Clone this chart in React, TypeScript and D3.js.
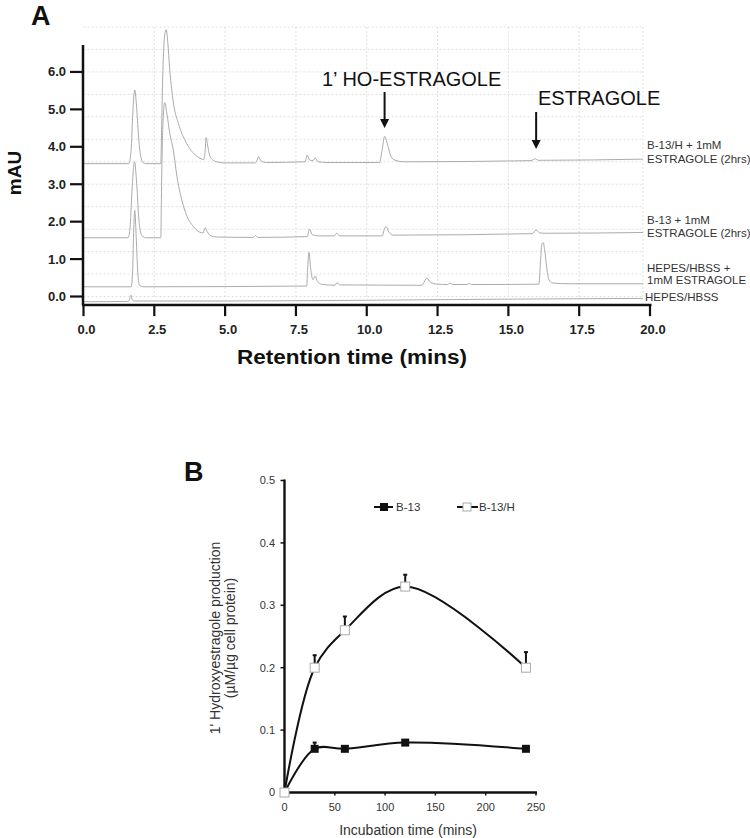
import React from "react";
import * as d3 from "d3";

// ---------- Panel A data ----------
const xTicksA = [0, 2.5, 5, 7.5, 10, 12.5, 15, 17.5, 20];
const yTicksA = [0, 1, 2, 3, 4, 5, 6];
const gridYA = [0, 0.6, 1.2, 1.8, 2.4, 3.0, 3.6, 4.2, 4.8, 5.4, 6.0, 6.6, 7.2];
const gridXA = [2.5, 5, 7.5, 10, 12.5, 15, 17.5, 19.75];

const traceB13H: [number, number][] = [
  [0, 3.55], [1.6, 3.55], [1.68, 3.9], [1.74, 4.9], [1.81, 5.52], [1.88, 5.0], [1.95, 4.2], [2.02, 3.75], [2.1, 3.58], [2.2, 3.55],
  [2.73, 3.55], [2.76, 4.6], [2.81, 6.2], [2.87, 7.0], [2.92, 7.13], [2.98, 6.75], [3.04, 6.1], [3.12, 5.5], [3.2, 5.05], [3.32, 4.7],
  [3.45, 4.4], [3.6, 4.15], [3.8, 3.9], [4.0, 3.75], [4.15, 3.68], [4.24, 3.66], [4.29, 3.85], [4.33, 4.25], [4.38, 4.05], [4.45, 3.78],
  [4.55, 3.66], [4.7, 3.6], [5.0, 3.57], [6.05, 3.57], [6.12, 3.62], [6.18, 3.74], [6.26, 3.63], [6.45, 3.58], [7.82, 3.6], [7.9, 3.78],
  [7.98, 3.65], [8.1, 3.63], [8.18, 3.7], [8.28, 3.6], [8.6, 3.58], [10.45, 3.58], [10.54, 3.9], [10.63, 4.28], [10.72, 4.1], [10.85, 3.75],
  [11.0, 3.64], [11.3, 3.6], [15.8, 3.63], [15.95, 3.68], [16.05, 3.64], [16.2, 3.64], [19.75, 3.67],
];

const traceB13: [number, number][] = [
  [0, 1.57], [1.57, 1.57], [1.64, 1.8], [1.71, 2.8], [1.8, 3.6], [1.88, 3.0], [1.95, 2.1], [2.02, 1.7], [2.1, 1.6], [2.2, 1.57],
  [2.73, 1.57], [2.75, 2.6], [2.78, 4.0], [2.82, 4.85], [2.87, 5.18], [2.95, 4.85], [3.05, 4.35], [3.17, 3.92], [3.3, 3.2], [3.47, 2.58],
  [3.65, 2.15], [3.88, 1.87], [4.1, 1.72], [4.22, 1.7], [4.29, 1.84], [4.36, 1.74], [4.5, 1.62], [4.7, 1.59], [6.0, 1.58], [6.07, 1.63],
  [6.15, 1.58], [7.9, 1.6], [7.98, 1.8], [8.08, 1.65], [8.3, 1.62], [8.85, 1.62], [8.94, 1.69], [9.05, 1.62], [10.55, 1.62], [10.62, 1.8],
  [10.68, 1.87], [10.78, 1.72], [10.95, 1.64], [15.85, 1.68], [15.98, 1.78], [16.1, 1.7], [16.3, 1.69], [19.75, 1.71],
];

const traceHepesEst: [number, number][] = [
  [0, 0.26], [1.68, 0.26], [1.73, 0.6], [1.77, 1.7], [1.81, 2.3], [1.86, 1.6], [1.92, 0.6], [1.98, 0.3], [2.1, 0.26], [7.88, 0.28],
  [7.91, 0.7], [7.96, 1.18], [8.02, 0.75], [8.1, 0.45], [8.18, 0.55], [8.26, 0.4], [8.4, 0.33], [8.6, 0.31], [8.88, 0.3], [8.95, 0.37],
  [9.05, 0.31], [11.95, 0.3], [12.05, 0.42], [12.12, 0.49], [12.25, 0.38], [12.5, 0.33], [12.85, 0.32], [12.93, 0.36], [13.05, 0.32],
  [13.55, 0.32], [13.62, 0.35], [13.7, 0.32], [16.08, 0.33], [16.13, 0.9], [16.18, 1.38], [16.23, 1.44], [16.28, 1.25], [16.35, 0.8],
  [16.43, 0.45], [16.55, 0.36], [17.2, 0.34], [19.75, 0.34],
];

const traceHepes: [number, number][] = [
  [0, -0.14], [1.58, -0.13], [1.63, -0.06], [1.67, 0.04], [1.71, -0.06], [1.77, -0.12], [5, -0.12], [10, -0.1], [15, -0.07], [19.75, -0.05],
];

const tracesA = [traceB13H, traceB13, traceHepesEst, traceHepes];

const labelLinesA = [
  "B-13/H + 1mM", "ESTRAGOLE (2hrs)",
  "B-13 + 1mM", "ESTRAGOLE (2hrs)",
  "HEPES/HBSS +", "1mM ESTRAGOLE",
  "HEPES/HBSS",
];
const labelValuesA = [4.05, 3.67, 2.05, 1.71, 0.76, 0.43, -0.02];

// ---------- Panel B data ----------
const timesB = [0, 30, 60, 120, 240];
const b13 = [0, 0.07, 0.07, 0.08, 0.07];
const b13Err = [0, 0.01, 0, 0, 0];
const b13h = [0, 0.2, 0.26, 0.33, 0.2];
const b13hErr = [0, 0.02, 0.022, 0.019, 0.025];
const xTicksB = [0, 50, 100, 150, 200, 250];
const yTicksB = [0, 0.1, 0.2, 0.3, 0.4, 0.5];

const FONT = "Arial, 'Liberation Sans', Helvetica, sans-serif";

export default function App() {
  // Panel A scales
  const xA = d3.scaleLinear().domain([0, 20]).range([83.5, 650]);
  const yA = d3.scaleLinear().domain([-0.2, 6.72]).range([304, 45]);
  const lineA = d3
    .line<[number, number]>()
    .x((d) => xA(d[0]))
    .y((d) => yA(d[1]))
    .curve(d3.curveMonotoneX);

  // Panel B scales
  const xB = d3.scaleLinear().domain([0, 250]).range([284.5, 536]);
  const yB = d3.scaleLinear().domain([0, 0.5]).range([792.5, 480.5]);
  const lineB = d3
    .line<number>()
    .x((_, i) => xB(timesB[i]))
    .y((d) => yB(d))
    .curve(d3.curveCatmullRom.alpha(0.5));

  const axisAY = yA(-0.23);
  const gridTop = yA(7.2);
  const gridBottom = yA(-0.08);

  return (
    <svg
      width={750}
      height={838}
      style={{ position: "absolute", left: 0, top: 0, background: "#fff" }}
      fontFamily={FONT}
    >
      <rect x={0} y={0} width={750} height={838} fill="#fff" />

      {/* ===== Panel A ===== */}
      <text x={31} y={25} fontSize={27} fontWeight="bold" fill="#111">A</text>

      {/* grid */}
      <g stroke="#d8d8d8" strokeWidth={0.8} strokeDasharray="2,2">
        {gridYA.map((v) => (
          <line key={"gy" + v} x1={xA(0)} x2={xA(19.75)} y1={yA(v)} y2={yA(v)} />
        ))}
        {gridXA.map((v) => (
          <line key={"gx" + v} x1={xA(v)} x2={xA(v)} y1={gridTop} y2={gridBottom} />
        ))}
      </g>

      {/* traces */}
      <g fill="none" stroke="#ababab" strokeWidth={1}>
        {tracesA.map((t, i) => (
          <path key={"tr" + i} d={lineA(t) || ""} />
        ))}
      </g>

      {/* axes */}
      <line x1={xA(0) - 0.5} x2={xA(0) - 0.5} y1={45} y2={axisAY} stroke="#111" strokeWidth={2.5} />
      <line x1={xA(0) - 1.5} x2={xA(20) + 1.5} y1={axisAY} y2={axisAY} stroke="#111" strokeWidth={2.5} />
      {yTicksA.map((v) => (
        <g key={"yta" + v}>
          <line x1={70} x2={xA(0)} y1={yA(v)} y2={yA(v)} stroke="#111" strokeWidth={2.2} />
          <text x={66} y={yA(v)} dy="0.35em" textAnchor="end" fontSize={13} fontWeight="bold" fill="#222">
            {v.toFixed(1)}
          </text>
        </g>
      ))}
      {xTicksA.map((v) => (
        <g key={"xta" + v}>
          <line x1={xA(v)} x2={xA(v)} y1={axisAY} y2={axisAY + 11} stroke="#111" strokeWidth={2.2} />
          <text x={xA(v) + 3} y={axisAY + 24} dy="0.35em" textAnchor="middle" fontSize={13} fontWeight="bold" fill="#222">
            {v.toFixed(1)}
          </text>
        </g>
      ))}
      <text
        transform="translate(14,173) rotate(-90)"
        textAnchor="middle"
        dy="0.35em"
        fontSize={19}
        fontWeight="bold"
        fill="#111"
      >
        mAU
      </text>
      <text x={352} y={364} textAnchor="middle" fontSize={20} fontWeight="bold" fill="#111" textLength={230} lengthAdjust="spacingAndGlyphs">
        Retention time (mins)
      </text>

      {/* trace labels */}
      {labelLinesA.map((s, i) => (
        <text key={"la" + i} x={i === 6 ? 645 : 647} y={yA(labelValuesA[i])} dy="0.35em" fontSize={11.5} fill="#333">
          {s}
        </text>
      ))}

      {/* annotations */}
      <text x={322} y={86} fontSize={20} fill="#111">1’ HO-ESTRAGOLE</text>
      <line x1={xA(10.63)} x2={xA(10.63)} y1={92} y2={120} stroke="#111" strokeWidth={2} />
      <path d={`M${xA(10.63) - 4.5},119 L${xA(10.63) + 4.5},119 L${xA(10.63)},128 Z`} fill="#111" />
      <text x={538} y={105} fontSize={20} fill="#111">ESTRAGOLE</text>
      <line x1={xA(15.98)} x2={xA(15.98)} y1={112} y2={141} stroke="#111" strokeWidth={2} />
      <path d={`M${xA(15.98) - 4.5},140 L${xA(15.98) + 4.5},140 L${xA(15.98)},149 Z`} fill="#111" />

      {/* ===== Panel B ===== */}
      <text x={184} y={481} fontSize={27} fontWeight="bold" fill="#111">B</text>

      <line x1={xB(0)} x2={xB(0)} y1={yB(0.5) - 1} y2={yB(0) + 1} stroke="#111" strokeWidth={2.4} />
      <line x1={xB(0) - 1} x2={xB(250) + 1} y1={yB(0)} y2={yB(0)} stroke="#111" strokeWidth={2.4} />
      {yTicksB.map((v) => (
        <g key={"ytb" + v}>
          {v > 0 && <line x1={xB(0) - 4} x2={xB(0)} y1={yB(v)} y2={yB(v)} stroke="#111" strokeWidth={1.5} />}
          <text x={275} y={yB(v)} dy="0.35em" textAnchor="end" fontSize={11} fill="#333">
            {String(v)}
          </text>
        </g>
      ))}
      {xTicksB.map((v) => (
        <g key={"xtb" + v}>
          {v > 0 && <line x1={xB(v)} x2={xB(v)} y1={yB(0)} y2={yB(0) + 3} stroke="#111" strokeWidth={1.5} />}
          <text x={xB(v)} y={807} dy="0.35em" textAnchor="middle" fontSize={11} fill="#333">
            {String(v)}
          </text>
        </g>
      ))}
      <text x={408} y={830} dy="0.35em" textAnchor="middle" fontSize={14} fill="#333">
        Incubation time (mins)
      </text>
      <g transform="translate(215,638) rotate(-90)">
        <text x={0} y={0} dy="0.35em" textAnchor="middle" fontSize={14} fill="#333">
          1' Hydroxyestragole production
        </text>
      </g>
      <g transform="translate(230,638) rotate(-90)">
        <text x={0} y={0} dy="0.35em" textAnchor="middle" fontSize={14} fill="#333">
          (µM/µg cell protein)
        </text>
      </g>

      {/* legend */}
      <line x1={374} x2={393} y1={507} y2={507} stroke="#111" strokeWidth={2} />
      <rect x={380} y={503} width={8} height={8} fill="#111" />
      <text x={396} y={507} dy="0.35em" fontSize={11.5} fill="#333">B-13</text>
      <line x1={457} x2={478} y1={507} y2={507} stroke="#111" strokeWidth={2} />
      <rect x={463} y={503} width={8} height={8} fill="#fff" stroke="#aaa" strokeWidth={1} />
      <text x={479} y={507} dy="0.35em" fontSize={11.5} fill="#333">B-13/H</text>

      {/* lines */}
      <path d={lineB(b13h) || ""} fill="none" stroke="#111" strokeWidth={2} />
      <path d={lineB(b13) || ""} fill="none" stroke="#111" strokeWidth={2} />

      {/* error bars */}
      {b13h.map((v, i) =>
        b13hErr[i] > 0 ? (
          <g key={"ebh" + i} stroke="#111" strokeWidth={2}>
            <line x1={xB(timesB[i])} x2={xB(timesB[i])} y1={yB(v)} y2={yB(v + b13hErr[i])} />
            <line x1={xB(timesB[i]) - 2} x2={xB(timesB[i]) + 2} y1={yB(v + b13hErr[i])} y2={yB(v + b13hErr[i])} />
          </g>
        ) : null
      )}
      {b13.map((v, i) =>
        b13Err[i] > 0 ? (
          <g key={"eb" + i} stroke="#111" strokeWidth={2}>
            <line x1={xB(timesB[i])} x2={xB(timesB[i])} y1={yB(v)} y2={yB(v + b13Err[i])} />
            <line x1={xB(timesB[i]) - 2} x2={xB(timesB[i]) + 2} y1={yB(v + b13Err[i])} y2={yB(v + b13Err[i])} />
          </g>
        ) : null
      )}

      {/* markers */}
      {b13.map((v, i) => (
        <rect key={"m" + i} x={xB(timesB[i]) - 4} y={yB(v) - 4} width={8} height={8} fill="#111" />
      ))}
      {b13h.map((v, i) => (
        <rect key={"mh" + i} x={xB(timesB[i]) - 4.5} y={yB(v) - 4.5} width={9} height={9} fill="#fff" stroke="#aaa" strokeWidth={1} />
      ))}
    </svg>
  );
}
